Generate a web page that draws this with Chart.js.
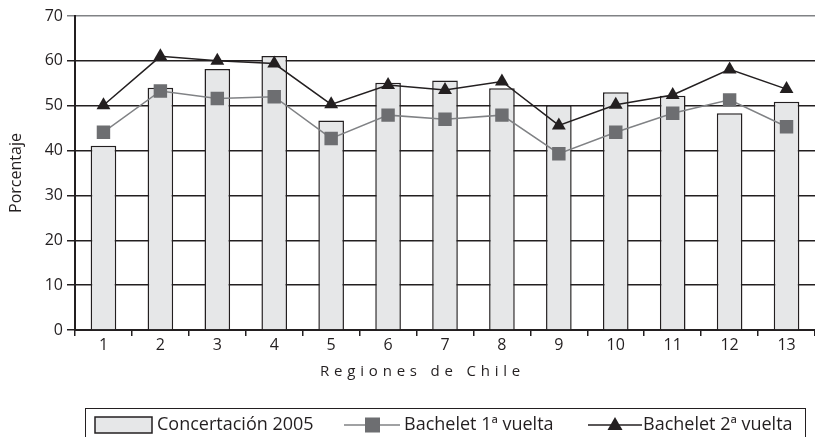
<!DOCTYPE html>
<html>
<head>
<meta charset="utf-8">
<script src="https://cdn.jsdelivr.net/npm/chart.js@4/dist/chart.umd.min.js"></script>
<style>
  html, body { margin: 0; padding: 0; background: #fff; overflow: hidden; }
  #wrap { width: 815px; height: 437px; position: relative; }
</style>
</head>
<body>
<div id="wrap"><canvas id="regiones_chart"></canvas></div>
<script>
// datos
const regiones = ['1', '2', '3', '4', '5', '6', '7', '8', '9', '10', '11', '12', '13'];
const concertacion2005 = [41.1, 54.0, 58.2, 61.1, 46.7, 55.1, 55.6, 53.9, 50.1, 53.0, 52.2, 48.3, 50.9];
const bachelet1 = [44.1, 53.3, 51.6, 52.0, 42.7, 47.9, 47.0, 47.9, 39.3, 44.1, 48.3, 51.3, 45.3];
const bachelet2 = [50.1, 61.0, 60.0, 59.4, 50.3, 54.6, 53.5, 55.4, 45.6, 50.2, 52.4, 58.1, 53.7];
const yTicks = [0, 10, 20, 30, 40, 50, 60, 70];

const legendLabels = ['Concertación 2005', 'Bachelet 1ª vuelta', 'Bachelet 2ª vuelta'];
const xTitle = 'Regiones de Chile';

const FONT = '"Open Sans", "Noto Sans", sans-serif';
const INK = '#231f20';

document.addEventListener("DOMContentLoaded", function () {
	regiones_chart();
});

// titulo del eje x y leyenda dibujados a mano
const extrasPlugin = {
	id: 'extras',
	afterDraw(chart) {
		const ctx = chart.ctx;
		const area = chart.chartArea;
		ctx.save();

		// titulo eje x con letras espaciadas
		ctx.font = '15px ' + FONT;
		ctx.fillStyle = INK;
		ctx.textBaseline = 'middle';
		ctx.textAlign = 'left';
		ctx.letterSpacing = '4.8px';
		ctx.fillText(xTitle, 320, area.bottom + 42);
		ctx.letterSpacing = '0px';

		// caja de leyenda
		ctx.strokeStyle = INK;
		ctx.lineWidth = 1;
		ctx.strokeRect(85.5, 408.5, 720, 40);

		const ly = 425;
		ctx.font = '18px ' + FONT;

		// barra
		ctx.fillStyle = '#e6e7e8';
		ctx.fillRect(95, 417, 57, 16);
		ctx.lineWidth = 1.5;
		ctx.strokeRect(95, 417, 57, 16);
		ctx.fillStyle = INK;
		ctx.fillText(legendLabels[0], 157, ly);

		// 1a vuelta
		ctx.strokeStyle = '#808285';
		ctx.lineWidth = 1.5;
		ctx.beginPath();
		ctx.moveTo(344, ly);
		ctx.lineTo(400, ly);
		ctx.stroke();
		ctx.fillStyle = '#6d6e71';
		ctx.fillRect(365, ly - 7.5, 15, 15);
		ctx.fillStyle = INK;
		ctx.fillText(legendLabels[1], 404, ly);

		// 2a vuelta
		ctx.strokeStyle = INK;
		ctx.beginPath();
		ctx.moveTo(588, ly);
		ctx.lineTo(642, ly);
		ctx.stroke();
		ctx.beginPath();
		ctx.moveTo(615, ly - 8);
		ctx.lineTo(622.5, ly + 5);
		ctx.lineTo(607.5, ly + 5);
		ctx.closePath();
		ctx.fill();
		ctx.fillText(legendLabels[2], 643, ly);

		ctx.restore();
	}
};

function regiones_chart() {
	const data = {
		labels: regiones,
		datasets: [{
			type: 'line',
			label: legendLabels[2],
			data: bachelet2,
			borderColor: INK,
			borderWidth: 1.5,
			pointStyle: 'triangle',
			pointRadius: 8,
			pointBackgroundColor: INK,
			pointBorderColor: INK,
			pointBorderWidth: 0,
			tension: 0,
			order: 1
		}, {
			type: 'line',
			label: legendLabels[1],
			data: bachelet1,
			borderColor: '#808285',
			borderWidth: 1.5,
			pointStyle: 'rect',
			pointRadius: 9.5,
			pointBackgroundColor: '#6d6e71',
			pointBorderColor: '#6d6e71',
			pointBorderWidth: 0,
			tension: 0,
			order: 2
		}, {
			type: 'bar',
			label: legendLabels[0],
			data: concertacion2005,
			backgroundColor: '#e6e7e8',
			borderColor: INK,
			borderWidth: 1.5,
			barPercentage: 0.45,
			categoryPercentage: 1,
			order: 3
		}]
	};

	const options = {
		responsive: true,
		maintainAspectRatio: false,
		animation: false,
		layout: {
			autoPadding: false,
			padding: { top: 16, right: 0, bottom: 77, left: 0 }
		},
		plugins: {
			legend: { display: false },
			tooltip: { enabled: false }
		},
		scales: {
			x: {
				offset: true,
				grid: {
					offset: true,
					drawOnChartArea: false,
					drawTicks: true,
					tickLength: 6,
					color: INK,
					lineWidth: 1.5
				},
				border: { display: true, color: INK, width: 2 },
				ticks: {
					color: INK,
					font: { family: FONT, size: 16 },
					padding: 0
				},
				afterFit: function (scale) {
					scale.height = 30;
					scale.paddingLeft = 0;
					scale.paddingRight = 0;
				}
			},
			y: {
				min: 0,
				max: 70,
				afterBuildTicks: function (scale) {
					scale.ticks = yTicks.map(function (v) { return { value: v }; });
				},
				grid: {
					color: function (c) { return c.tick && c.tick.value === 70 ? '#808285' : INK; },
					lineWidth: 1.5,
					tickLength: 8
				},
				border: { display: true, color: INK, width: 2 },
				ticks: {
					color: INK,
					font: { family: FONT, size: 16 },
					padding: 4
				},
				title: {
					display: true,
					text: 'Porcentaje',
					color: INK,
					font: { family: FONT, size: 16 },
					padding: { top: 7, bottom: 0 }
				},
				afterFit: function (scale) { scale.width = 75; }
			}
		}
	};

	const ctx = document.getElementById('regiones_chart').getContext('2d');
	new Chart(ctx, {
		type: 'bar',
		data: data,
		options: options,
		plugins: [extrasPlugin]
	});
}
</script>
</body>
</html>
